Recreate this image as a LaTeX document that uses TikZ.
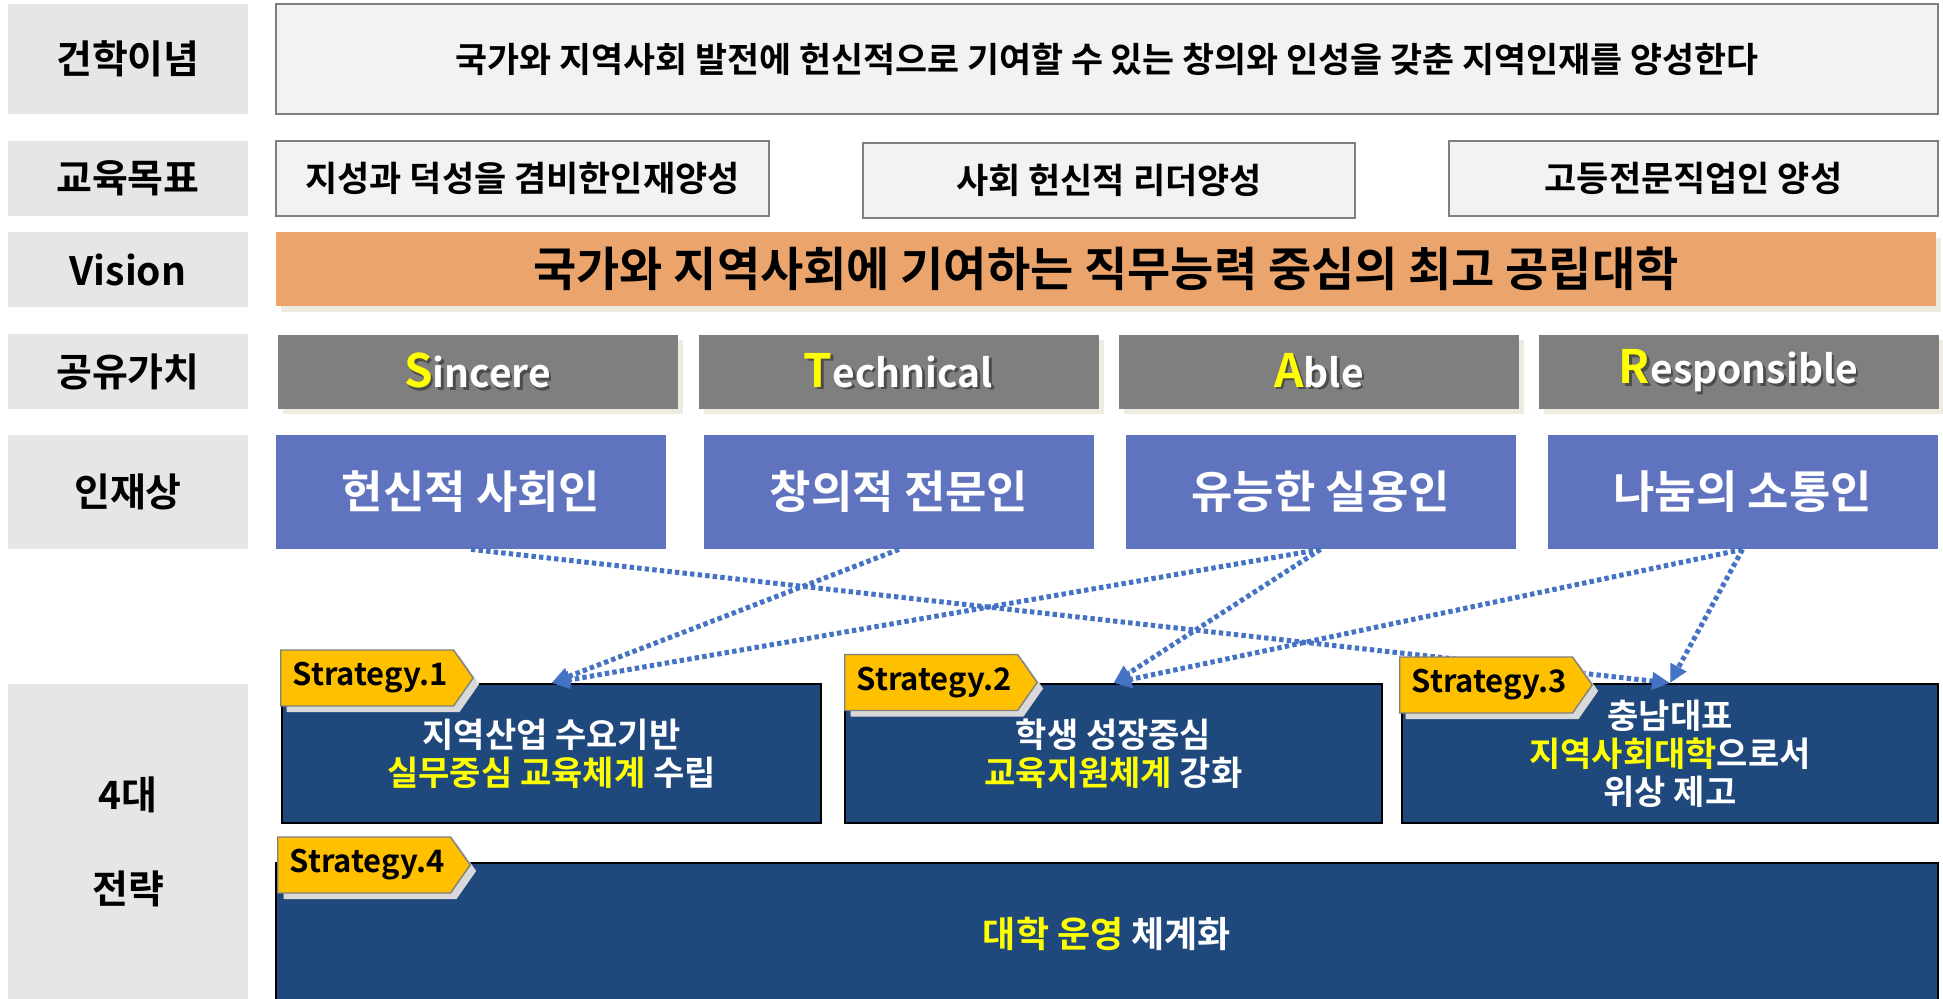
\documentclass[tikz,border=0pt]{standalone}
\usepackage{fontspec}
\setmainfont{Noto Sans CJK KR}[BoldFont={Noto Sans CJK KR Bold}]
\usetikzlibrary{shapes.symbols,shadows,arrows.meta}

\definecolor{labgray}{RGB}{231,230,230}
\definecolor{boxgray}{RGB}{242,242,242}
\definecolor{boxline}{RGB}{127,127,127}
\definecolor{visorange}{RGB}{235,165,108}
\definecolor{shadowtan}{RGB}{238,236,225}
\definecolor{valgray}{RGB}{127,127,127}
\definecolor{talblue}{RGB}{95,115,190}
\definecolor{stblue}{RGB}{31,73,125}
\definecolor{tagyellow}{RGB}{255,192,0}
\definecolor{tagshadow}{RGB}{217,217,217}
\definecolor{linkblue}{RGB}{68,114,196}
\definecolor{hiyellow}{RGB}{255,255,0}

\newcommand{\hi}[1]{\textcolor{hiyellow}{#1}}
\newcommand{\valword}[2]{\makebox[0pt][l]{\kern1.2pt\raisebox{-1.2pt}{\color{black!70}{\fontsize{23}{23}\selectfont #1}#2}}{\color{hiyellow}\fontsize{23}{23}\selectfont #1}#2}

\tikzset{
  lab/.style={fill=labgray, minimum width=120pt, inner sep=0pt,
    font=\fontsize{19.5}{22}\selectfont\bfseries},
  goalbox/.style={fill=boxgray, draw=boxline, line width=0.8pt, minimum height=37.5pt,
    font=\fontsize{17.5}{20}\selectfont\bfseries},
  valbox/.style={fill=valgray, minimum width=200pt, minimum height=37pt, text=white,
    font=\fontsize{19.5}{23}\selectfont\bfseries,
    general shadow={fill=shadowtan, shadow xshift=2.5pt, shadow yshift=-2.5pt}},
  talbox/.style={fill=talblue, minimum width=195pt, minimum height=57pt, text=white,
    font=\fontsize{22.5}{25}\selectfont\bfseries},
  stbox/.style={fill=stblue, draw=black, line width=1pt, minimum height=69.5pt,
    text=white, align=center, font=\fontsize{17}{19}\selectfont\bfseries},
  tagbox/.style={shape=signal, signal to=east, signal pointer angle=110,
    fill=tagyellow, draw=boxline, line width=0.7pt, minimum height=28pt,
    inner xsep=3pt, font=\fontsize{15.5}{18}\selectfont\bfseries,
    general shadow={fill=tagshadow, shadow xshift=3pt, shadow yshift=-3pt}},
  link/.style={draw=linkblue, line width=2.5pt, dash pattern=on 2.2pt off 1.6pt,
    -{Triangle[length=9pt,width=8.5pt]}}
}

\begin{document}
\begin{tikzpicture}[x=0.5pt, y=-0.5pt]
    \useasboundingbox (0,0) rectangle (1943,999);
    \clip (0,0) rectangle (1943,999);

    % Row labels
    \node[lab, minimum height=55pt] (lphil) at (128,59) {건학이념};
    \node[lab, minimum height=37.5pt] (lgoal) at (128,178.5) {교육목표};
    \node[lab, minimum height=37.5pt] (lvis) at (128,269.5) {Vision};
    \node[lab, minimum height=37.5pt] (lval) at (128,371.5) {공유가치};
    \node[lab, minimum height=57pt] (ltal) at (128,492) {인재상};
    \node[lab, minimum height=157.5pt, align=center] (lstr) at (128,841.5) {4대\\[25pt]전략};

    % Founding philosophy
    \node[goalbox, minimum width=831pt, minimum height=55pt, font=\fontsize{17.4}{20}\selectfont\bfseries] (phil) at (1107,59)
        {국가와 지역사회 발전에 헌신적으로 기여할 수 있는 창의와 인성을 갖춘 지역인재를 양성한다};

    % Educational goals
    \node[goalbox, minimum width=246.5pt] (goal1) at (522.5,178.5) {지성과 덕성을 겸비한인재양성};
    \node[goalbox, minimum width=246pt] (goal2) at (1109,180.5) {사회 헌신적 리더양성};
    \node[goalbox, minimum width=244.5pt] (goal3) at (1693.5,178.5) {고등전문직업인 양성};

    % Vision
    \node[fill=visorange, minimum width=830pt, minimum height=37pt,
        general shadow={fill=shadowtan, shadow xshift=2.5pt, shadow yshift=-3pt},
        font=\fontsize{23.5}{26}\selectfont\bfseries] (vis) at (1106,269)
        {국가와 지역사회에 기여하는 직무능력 중심의 최고 공립대학};

    % Shared values
    \node[valbox] (val1) at (477.5,372) {\valword{S}{incere}};
    \node[valbox] (val2) at (898.5,372) {\valword{T}{echnical}};
    \node[valbox] (val3) at (1319,372) {\valword{A}{ble}};
    \node[valbox] (val4) at (1738.5,372) {\valword{R}{esponsible}};

    % Talent profiles
    \node[talbox] (tal1) at (471,492) {헌신적 사회인};
    \node[talbox] (tal2) at (899,492) {창의적 전문인};
    \node[talbox] (tal3) at (1320.5,492) {유능한 실용인};
    \node[talbox] (tal4) at (1742.5,492) {나눔의 소통인};

    % Strategies
    \node[stbox, minimum width=269.5pt] (st1) at (551.5,753.5)
        {지역산업 수요기반\\\hi{실무중심 교육체계} 수립};
    \node[stbox, minimum width=268.5pt] (st2) at (1113.5,753.5)
        {학생 성장중심\\\hi{교육지원체계} 강화};
    \node[stbox, minimum width=268pt] (st3) at (1670,753.5)
        {충남대표\\\hi{지역사회대학}으로서\\위상 제고};
    \node[stbox, minimum width=831pt, minimum height=71pt, font=\fontsize{18}{20}\selectfont\bfseries] (st4) at (1107,934)
        {\hi{대학 운영} 체계화};

    % Links from talent profiles to strategies
    \draw[link] (tal1.south) -- (st3.north);
    \draw[link] (tal2.south) -- (st1.north);
    \draw[link] (tal3.south) -- (st1.north);
    \draw[link] (tal3.south) -- (st2.north);
    \draw[link] (tal4.south) -- (st2.north);
    \draw[link] (tal4.south) -- (st3.north);

    % Strategy tags
    \node[tagbox, anchor=west] (tag1) at (280,678) {\hspace{3pt}Strategy.1};
    \node[tagbox, anchor=west] (tag2) at (844,682.5) {\hspace{3pt}Strategy.2};
    \node[tagbox, anchor=west] (tag3) at (1399,685) {\hspace{3pt}Strategy.3};
    \node[tagbox, anchor=west] (tag4) at (277,865) {\hspace{3pt}Strategy.4};
\end{tikzpicture}
\end{document}
